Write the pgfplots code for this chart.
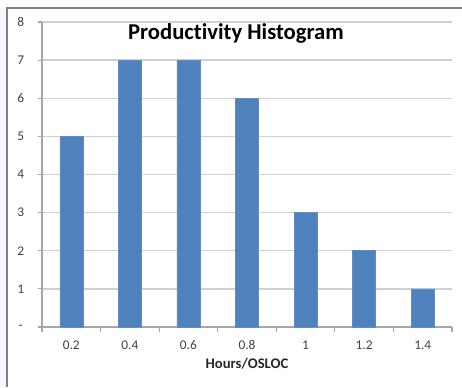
\documentclass[border=0pt]{standalone}
\usepackage{pgfplots}
\pgfplotsset{compat=1.18}
\usepackage{fontspec}
\setmainfont{Carlito}[Ligatures=NoCommon]
\definecolor{barblue}{HTML}{4F81BD}
\definecolor{gridgray}{HTML}{D0D0D0}
\definecolor{axisgray}{HTML}{A6A6A6}
\definecolor{labelgray}{HTML}{404040}
\begin{document}
\begin{tikzpicture}
\useasboundingbox (0,0) rectangle (346.5pt,290.25pt);
\fill[blue!4] (0,0) rectangle (5.25pt,284.25pt);
\draw[gray, line width=1pt] (5.25pt,0) -- (5.25pt,284.25pt) -- (346.5pt,284.25pt);
\begin{axis}[
  at={(31.5pt,45pt)}, anchor=south west,
  width=307.5pt, height=228.75pt, scale only axis,
  xmin=-0.5, xmax=6.5, ymin=0, ymax=8,
  axis lines*=left,
  axis line style={axisgray, line width=0.8pt},
  xtick={0,1,2,3,4,5,6},
  xticklabels={0.2,0.4,0.6,0.8,1,1.2,1.4},
  xtick style={draw=none},
  extra x ticks={-0.5,0.5,1.5,2.5,3.5,4.5,5.5,6.5},
  extra x tick labels={},
  extra x tick style={xtick style={draw=axisgray, line width=0.8pt}, major tick length=3.75pt, tick align=outside, grid=none},
  ytick={0,1,2,3,4,5,6,7,8},
  yticklabels={-,1,2,3,4,5,6,7,8},
  ytick style={draw=axisgray, line width=0.8pt},
  tick align=outside, major tick length=3pt,
  ymajorgrids, grid style={gridgray, line width=1.1pt},
  xticklabel style={anchor=center, yshift=-10.5pt, font=\fontsize{10}{12}\selectfont, text=labelgray},
  yticklabel style={anchor=center, xshift=-13pt, font=\fontsize{10}{12}\selectfont, text=labelgray},
  xlabel={Hours/OSLOC},
  xlabel style={at={(axis description cs:0.5,0)}, anchor=center, yshift=-27.75pt, font=\bfseries\fontsize{11}{13}\selectfont, text=labelgray!60!black},
  clip=false,
]
\addplot[ybar, bar width=17.25pt, fill=barblue, draw=barblue!90!white] coordinates {(0,5) (1,7) (2,7) (3,6) (4,3) (5,2) (6,1)};
\node[font=\bfseries\fontsize{17}{20}\selectfont] at (axis description cs:0.473,0.964) {Productivity Histogram};
\end{axis}
\end{tikzpicture}
\end{document}
